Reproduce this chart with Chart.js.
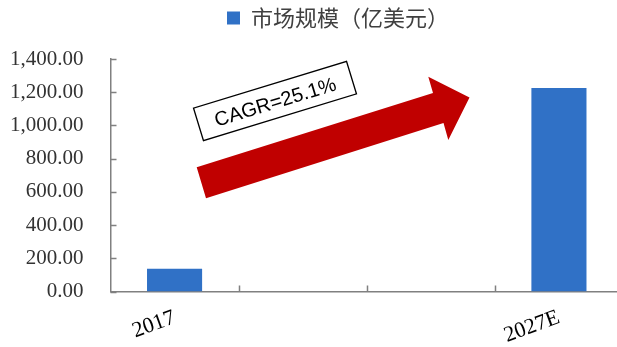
<!DOCTYPE html>
<html>
<head>
<meta charset="utf-8">
<script src="https://cdn.jsdelivr.net/npm/chart.js@4/dist/chart.umd.min.js"></script>
<style>
    html, body { margin: 0; padding: 0; background: #fff; overflow: hidden; }
    /* the plot area runs a little past the right edge in the original */
    #wrap { width: 623px; height: 347px; }
</style>
</head>
<body>
<div id="wrap"><canvas id="marketChart"></canvas></div>
<script>
// data
const categories = ['2017', '', '', '2027E'];
const marketSize = [137, null, null, 1225];
const seriesLabel = '市场规模（亿美元）';
const cagrText = 'CAGR=25.1%';
const yTicks = [0, 200, 400, 600, 800, 1000, 1200, 1400];

const AXIS_COLOR = '#808080';
const LEGEND_PAD = 8;

// inward tick marks like the original (y: right of axis, x: up between categories)
const innerTicks = {
    id: 'innerTicks',
    afterDatasetsDraw(chart) {
        const ctx = chart.ctx;
        const x = chart.scales.x;
        const y = chart.scales.y;
        const area = chart.chartArea;
        ctx.save();
        ctx.strokeStyle = AXIS_COLOR;
        ctx.lineWidth = 1.5;
        ctx.beginPath();
        yTicks.forEach(v => {
            const py = Math.round(y.getPixelForValue(v)) + 0.5;
            ctx.moveTo(area.left, py);
            ctx.lineTo(area.left + 6, py);
        });
        for (let i = 1; i < categories.length; i++) {
            const px = Math.round((x.getPixelForValue(i - 1) + x.getPixelForValue(i)) / 2) + 0.5;
            ctx.moveTo(px, area.bottom);
            ctx.lineTo(px, area.bottom - 6);
        }
        ctx.stroke();
        ctx.restore();
    }
};

// red growth arrow and the CAGR label box
const cagrArrow = {
    id: 'cagrArrow',
    afterDraw(chart) {
        const ctx = chart.ctx;
        ctx.save();
        ctx.fillStyle = '#C00000';
        ctx.beginPath();
        ctx.moveTo(196.7, 167.3);
        ctx.lineTo(433, 93);
        ctx.lineTo(428.3, 76.7);
        ctx.lineTo(469.5, 97.5);
        ctx.lineTo(448.3, 140);
        ctx.lineTo(443.5, 123);
        ctx.lineTo(206, 198.3);
        ctx.closePath();
        ctx.fill();

        ctx.translate(275, 101);
        ctx.rotate(-17 * Math.PI / 180);
        ctx.fillStyle = '#fff';
        ctx.fillRect(-80, -17, 160, 34);
        ctx.strokeStyle = '#000';
        ctx.lineWidth = 1.3;
        ctx.strokeRect(-80, -17, 160, 34);
        ctx.fillStyle = '#000';
        ctx.font = '20px "Liberation Sans", Arial, sans-serif';
        ctx.textAlign = 'center';
        ctx.textBaseline = 'middle';
        ctx.fillText(cagrText, 0, 2);
        ctx.restore();
    }
};

// put the legend where it sits in the original
const legendPlace = {
    id: 'legendPlace',
    afterLayout(chart) {
        const lg = chart.legend;
        const h = lg.bottom - lg.top;
        lg.left = 227 - LEGEND_PAD;
        lg.right = lg.left + 420;
        lg.top = 7 - LEGEND_PAD;
        lg.bottom = lg.top + h;
    }
};

new Chart(document.getElementById('marketChart'), {
    type: 'bar',
    data: {
        labels: categories,
        datasets: [{
            label: seriesLabel,
            data: marketSize,
            backgroundColor: '#3071C6',
            barPercentage: 0.43,
            categoryPercentage: 1.0
        }]
    },
    options: {
        responsive: true,
        maintainAspectRatio: false,
        animation: false,
        layout: {
            padding: { left: -17, right: 0, top: 19, bottom: -15 }
        },
        plugins: {
            legend: {
                position: 'top',
                align: 'start',
                labels: {
                    boxWidth: 13,
                    boxHeight: 13,
                    color: '#404040',
                    padding: LEGEND_PAD,
                    font: { family: '"Noto Sans CJK SC", sans-serif', size: 22 }
                }
            },
            tooltip: { enabled: false }
        },
        scales: {
            x: {
                grid: { display: false, drawTicks: false },
                border: { display: true, color: AXIS_COLOR, width: 1.5 },
                ticks: {
                    color: '#000',
                    minRotation: 20,
                    maxRotation: 20,
                    autoSkip: false,
                    padding: 13,
                    font: { family: '"Liberation Serif", "Times New Roman", serif', size: 22 }
                }
            },
            y: {
                min: 0,
                max: 1400,
                afterBuildTicks: (axis) => {
                    axis.ticks = yTicks.map(v => ({ value: v }));
                },
                grid: { display: false, drawTicks: false },
                border: { display: true, color: AXIS_COLOR, width: 1.5 },
                ticks: {
                    color: '#333',
                    padding: 27,
                    font: { family: '"Liberation Serif", "Times New Roman", serif', size: 21 },
                    callback: (v) => v.toLocaleString('en-US', { minimumFractionDigits: 2, maximumFractionDigits: 2 })
                }
            }
        }
    },
    plugins: [innerTicks, cagrArrow, legendPlace]
});
</script>
</body>
</html>
